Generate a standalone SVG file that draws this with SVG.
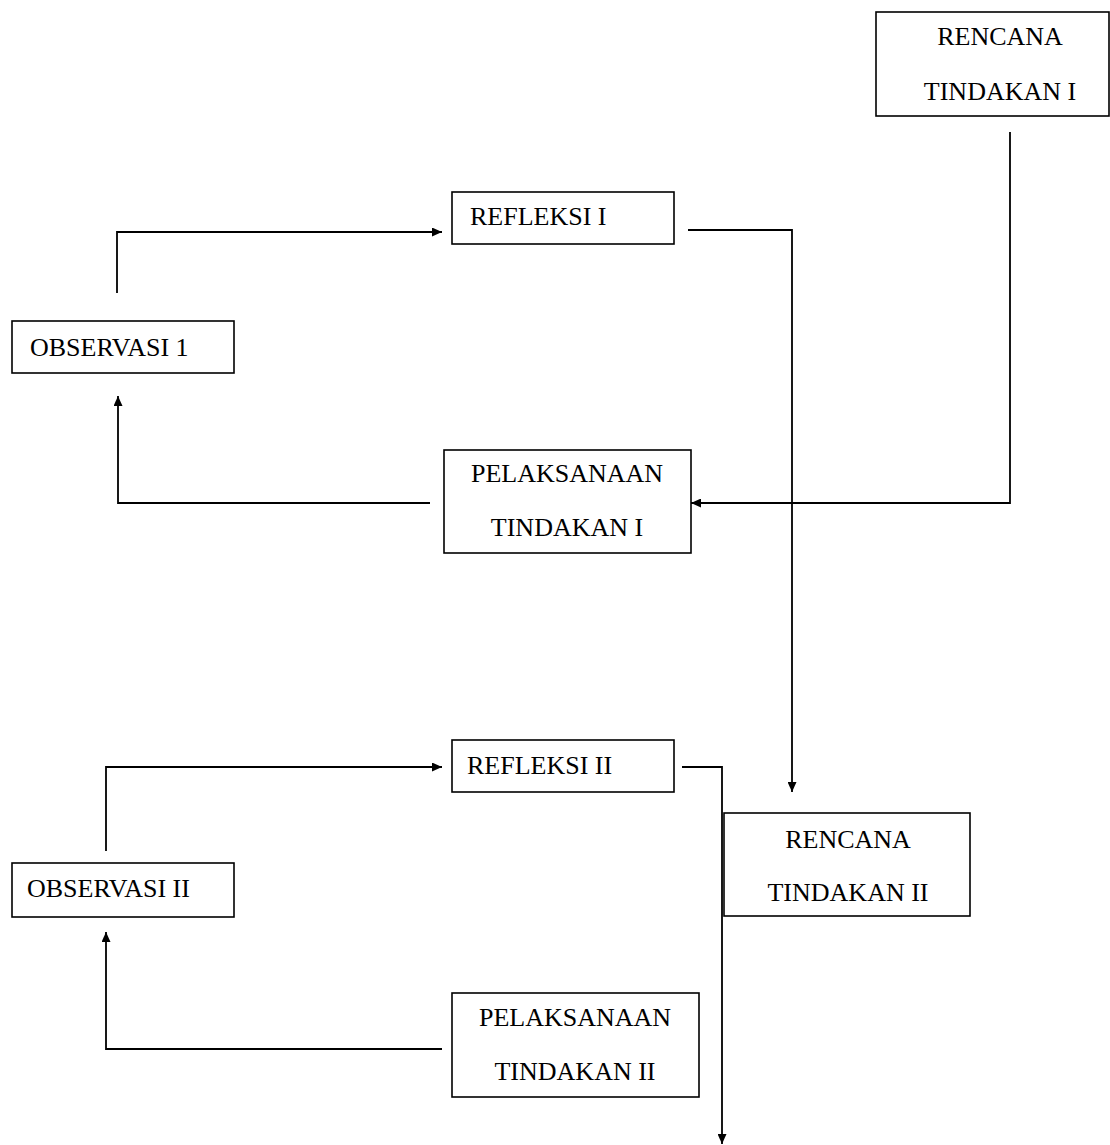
<svg xmlns="http://www.w3.org/2000/svg" width="1110" height="1145" viewBox="0 0 1110 1145">
<style>
.box{fill:#fff;stroke:#000;stroke-width:1.6}
.t{font-family:"Liberation Serif","Times New Roman",serif;font-size:26px;fill:#000}
.c{text-anchor:middle}
.conn{fill:none;stroke:#000;stroke-width:1.8;marker-end:url(#arr)}
</style>
<defs>
<marker id="arr" markerUnits="userSpaceOnUse" markerWidth="10" markerHeight="9" refX="10" refY="4.5" orient="auto">
<path d="M0,0 L10,4.5 L0,9 z" fill="#000"/>
</marker>
</defs>
<rect width="1110" height="1145" fill="#fff"/>
<g id="connectors">
<path class="conn" d="M1010 132 V503 H691"/>
<path class="conn" d="M430 503 H118 V396"/>
<path class="conn" d="M117 293 V232 H442"/>
<path class="conn" d="M688 230 H792 V792"/>
<path class="conn" d="M682 767 H722 V1144"/>
<path class="conn" d="M442 1049 H106 V932"/>
<path class="conn" d="M106 851 V767 H442"/>
</g>
<g id="rencana1">
<rect class="box" x="876" y="12" width="233" height="104"/>
<text class="t c" x="1000" y="45">RENCANA</text>
<text class="t c" x="1000" y="100">TINDAKAN I</text>
</g>
<g id="refleksi1">
<rect class="box" x="452" y="192" width="222" height="52"/>
<text class="t" x="470" y="225">REFLEKSI I</text>
</g>
<g id="observasi1">
<rect class="box" x="12" y="321" width="222" height="52"/>
<text class="t" x="30" y="356">OBSERVASI 1</text>
</g>
<g id="pelaksanaan1">
<rect class="box" x="444" y="450" width="247" height="103"/>
<text class="t c" x="567" y="482">PELAKSANAAN</text>
<text class="t c" x="567" y="536">TINDAKAN I</text>
</g>
<g id="refleksi2">
<rect class="box" x="452" y="740" width="222" height="52"/>
<text class="t" x="467" y="774">REFLEKSI II</text>
</g>
<g id="rencana2">
<rect class="box" x="724" y="813" width="246" height="103"/>
<text class="t c" x="848" y="848">RENCANA</text>
<text class="t c" x="848" y="901">TINDAKAN II</text>
</g>
<g id="observasi2">
<rect class="box" x="12" y="863" width="222" height="54"/>
<text class="t" x="27" y="897">OBSERVASI II</text>
</g>
<g id="pelaksanaan2">
<rect class="box" x="452" y="993" width="247" height="104"/>
<text class="t c" x="575" y="1026">PELAKSANAAN</text>
<text class="t c" x="575" y="1080">TINDAKAN II</text>
</g>
</svg>
